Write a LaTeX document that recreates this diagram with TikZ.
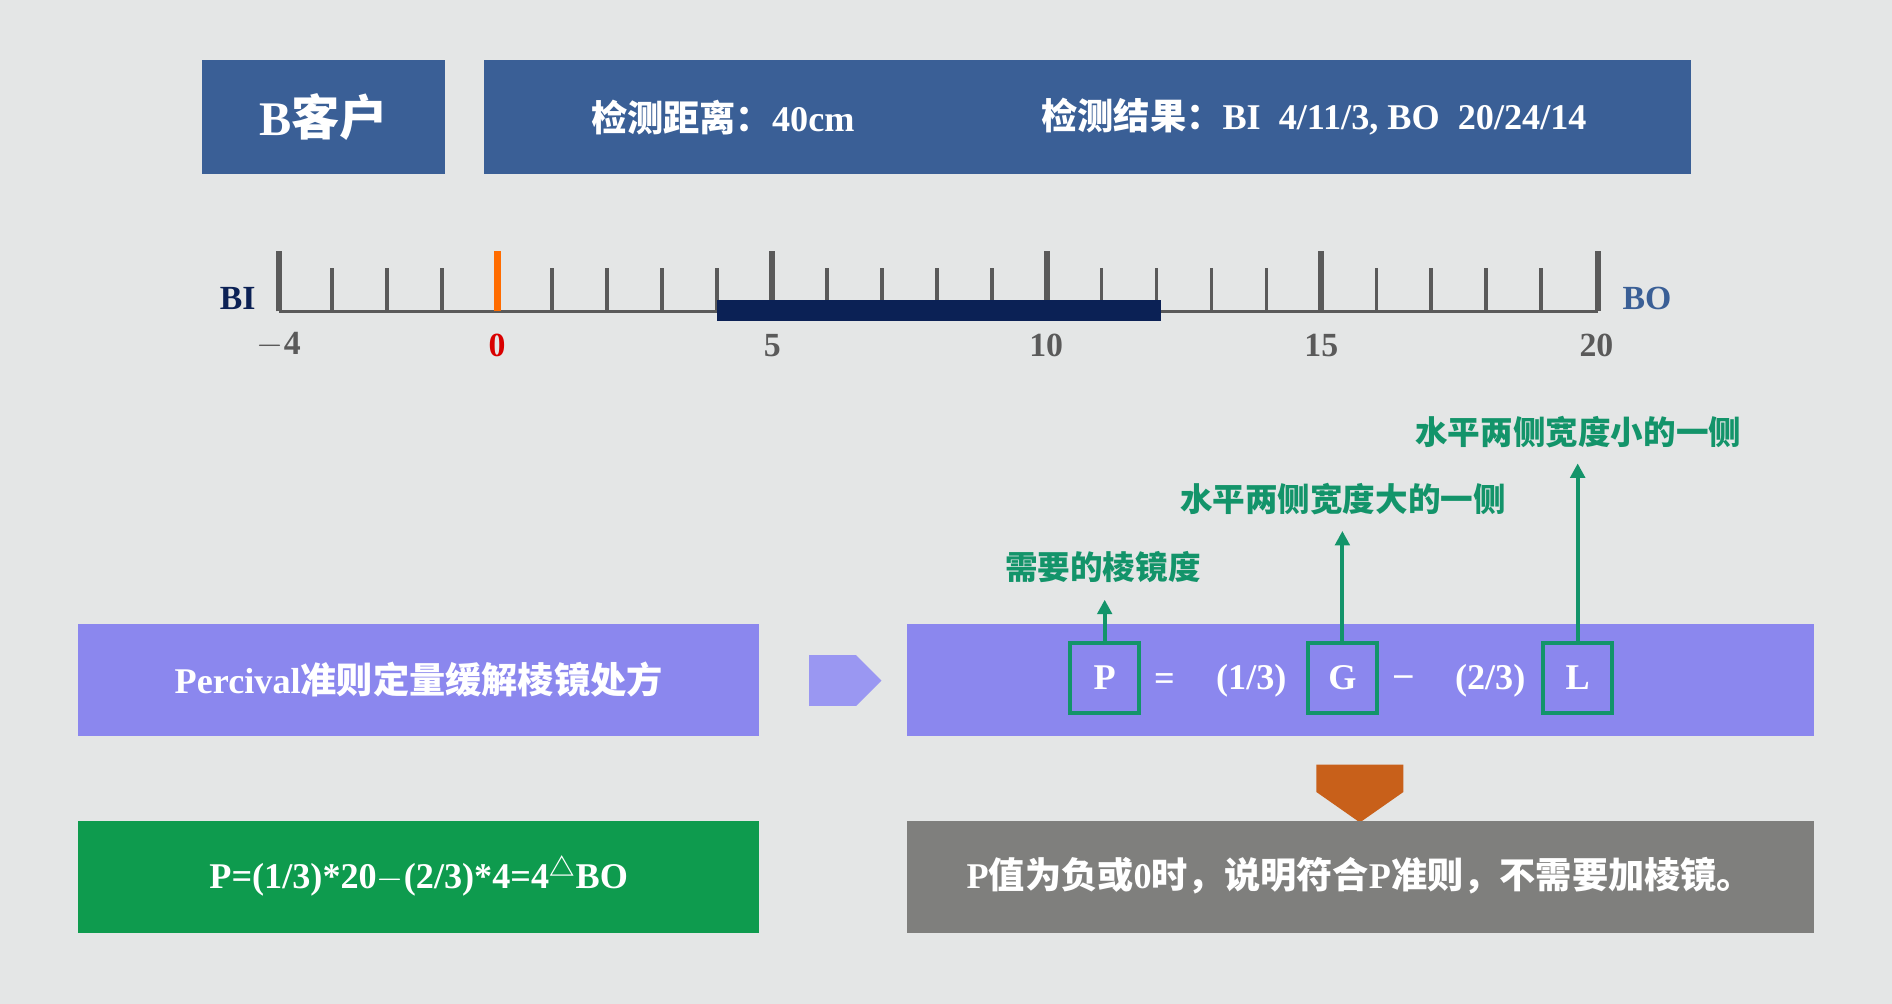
\documentclass[tikz,border=0pt]{standalone}
\usepackage{fontspec}
\setmainfont{Liberation Serif}
\newfontfamily\cjk{Noto Sans CJK SC}
\newcommand{\C}[1]{{\cjk #1}}
\usetikzlibrary{arrows.meta,shapes.arrows}
\definecolor{bgc}{HTML}{E4E6E6}
\definecolor{hdr}{HTML}{3A5F96}
\definecolor{pur}{HTML}{8B87EE}
\definecolor{purl}{HTML}{9A97F2}
\definecolor{grn}{HTML}{13946A}
\definecolor{gbox}{HTML}{0E9B4E}
\definecolor{gry}{HTML}{7F7F7D}
\definecolor{org}{HTML}{C8601A}
\definecolor{navy}{HTML}{0B2155}
\definecolor{tick}{HTML}{5A5A5A}
\tikzset{
 box/.style={inner sep=0pt,text=white,font=\bfseries\fontsize{15}{18}\selectfont},
 gl/.style={text=grn,font=\bfseries\fontsize{13.5}{16}\selectfont},
 sq/.style={draw=grn,line width=1.6pt,minimum width=28.5pt,minimum height=29pt,inner sep=0pt,text=white,font=\bfseries\fontsize{15}{18}\selectfont},
 up/.style={draw=grn,line width=1.6pt,-{Triangle[length=6pt,width=6pt]}},
 st/.style={draw=tick,line width=1.5pt},
 bt/.style={draw=tick,line width=2.5pt},
 lab/.style={font=\bfseries\fontsize{14}{16}\selectfont,text=tick}
}
\begin{document}
\begin{tikzpicture}[x=0.5pt,y=-0.5pt]
\fill[bgc] (0,0) rectangle (1568,832);
\useasboundingbox (0,0) rectangle (1568,832);
% header
\fill[hdr] (167,50) rectangle (369,144);
\node[box,font=\bfseries\fontsize{20}{22}\selectfont] (t1) at (268,97) {B\C{客户}};
\fill[hdr] (401,50) rectangle (1401,144);
\node[box] (t2) at (599,97) {\C{检测距离：}40cm};
\node[box] (t3) at (1089,97) {\C{检测结果：}BI\ \ 4/11/3, BO\ \ 20/24/14};
% ruler
\draw[st] (231,258) -- (1324,258);
\foreach \i in {-3,-2,-1,1,2,3,4,6,7,8,9,11,12,13,14,16,17,18,19}
  \draw[st] ({412+45.54*\i},258) -- ({412+45.54*\i},222);
\foreach \i in {5,10,15}
  \draw[bt] ({412+45.54*\i},258) -- ({412+45.54*\i},208);
\draw[bt] (231,258) -- (231,208);
\draw[bt] (1324,258) -- (1324,208);
\draw[draw=orange!85!red,line width=3pt] (412,258) -- (412,208);
\fill[navy] (594,249) rectangle (962,266);
\node[lab] (l1) at (231,286) {$-$4};
\node[lab,text=red!85!black] (l2) at (412,286) {0};
\node[lab] (l3) at (640,286) {5};
\node[lab] (l4) at (867,286) {10};
\node[lab] (l5) at (1095,286) {15};
\node[lab] (l6) at (1323,286) {20};
\node[lab,text=navy] (bi) at (197,247) {BI};
\node[lab,text=hdr] (bo) at (1365,247) {BO};
% left boxes
\fill[pur] (65,517) rectangle (629,610);
\node[box] (p1) at (347,563) {Percival\C{准则定量缓解棱镜处方}};
\node[single arrow,fill=purl,draw=none,minimum height=30pt,minimum width=21pt,single arrow head extend=0pt,inner sep=0pt] (ar) at (690,564) {};
\fill[pur] (752,517) rectangle (1503,610);
\node[sq] (P) at (915.5,562) {P};
\node[sq] (G) at (1112.5,562) {G};
\node[sq] (L) at (1307.5,562) {L};
\node[box] (eq) at (965,565) {=};
\node[box] (a) at (1037,564) {(1/3)};
\node[box] (m) at (1163,564) {--};
\node[box] (b) at (1235,564) {(2/3)};
\node[gl] (g1) at (914,470) {\C{需要的棱镜度}};
\node[gl] (g2) at (1113,414) {\C{水平两侧宽度大的一侧}};
\node[gl] (g3) at (1308,358) {\C{水平两侧宽度小的一侧}};
\draw[up] (P.north) -- (915.5,497);
\draw[up] (G.north) -- (1112.5,440);
\draw[up] (L.north) -- (1307.5,384);
\node[single arrow,shape border rotate=270,fill=org,draw=none,minimum height=24pt,minimum width=36pt,single arrow head extend=0pt,single arrow tip angle=110,inner sep=0pt] (da) at (1127,645) {};
% bottom
\fill[gbox] (65,680) rectangle (629,773);
\node[box] (f) at (347,726) {P=(1/3)*20$-$(2/3)*4=4\textsuperscript{\C{△}}BO};
\fill[gry] (752,680) rectangle (1503,773);
\node[box] (n) at (1127,726) {P\C{值为负或}0\C{时，说明符合}P\C{准则，不需要加棱镜。}};
\end{tikzpicture}
\end{document}
